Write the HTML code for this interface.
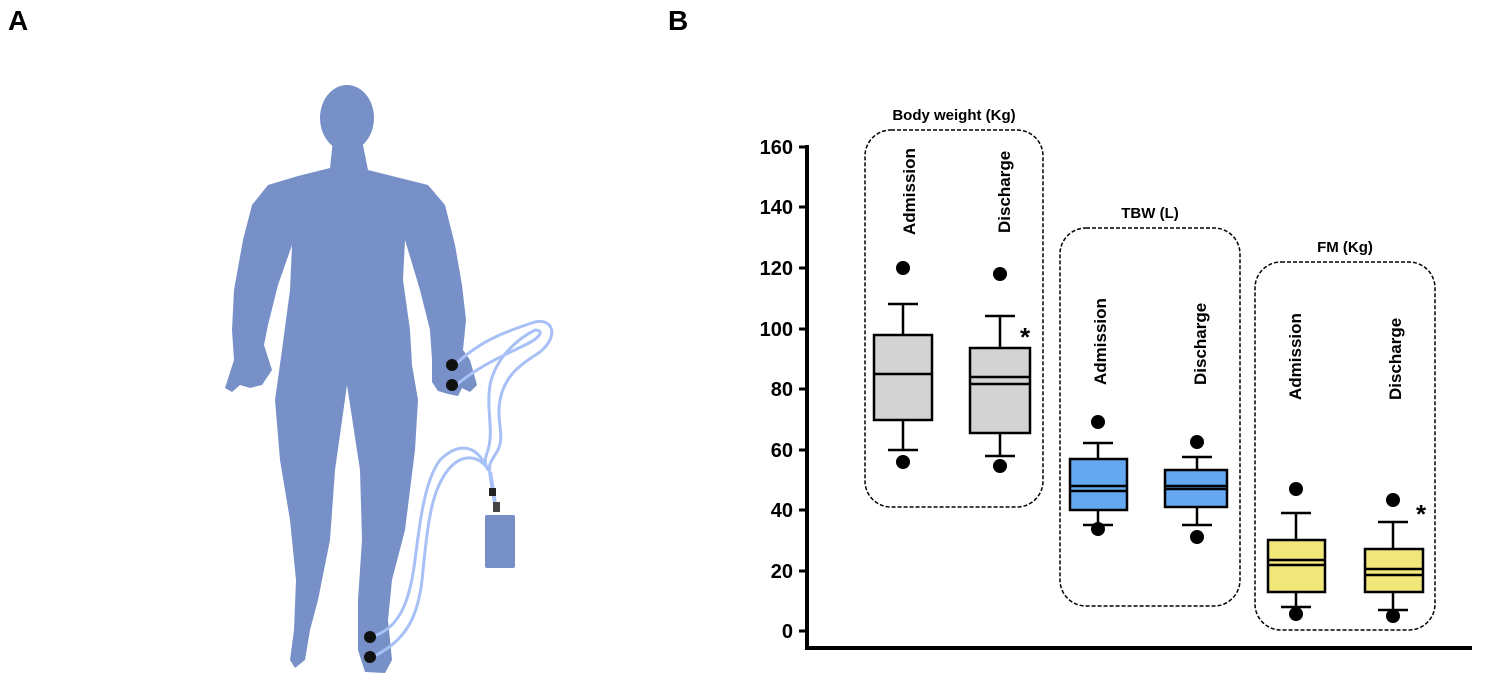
<!DOCTYPE html>
<html><head><meta charset="utf-8"><style>
html,body{margin:0;padding:0;background:#fff;}
svg{display:block;font-family:"Liberation Sans",Arial,sans-serif;}
</style></head><body>
<svg width="1498" height="680" viewBox="0 0 1498 680" xmlns="http://www.w3.org/2000/svg">
<text x="8" y="30" font-size="28" font-weight="bold">A</text>
<text x="668" y="30" font-size="28" font-weight="bold">B</text>

<!-- human figure -->
<g fill="#7790c7">
<ellipse cx="347" cy="118" rx="27" ry="33"/>
<path d="M333,140 L362,140 L368,170 L400,178 L428,185 L445,205 L455,245 L462,285 L466,320 L463,350 L470,360 L477,385 L470,392 L462,388 L458,396 L448,394 L438,391 L432,382 L432,360 L430,330 L420,290 L405,240 L403,280 L410,330 L412,365 L418,400 L415,450 L405,530 L392,580 L388,620 L392,660 L385,673 L365,672 L358,650 L358,600 L362,540 L360,470 L347,385 L335,470 L330,540 L318,600 L310,630 L305,660 L295,668 L290,660 L294,630 L296,580 L290,520 L280,460 L275,400 L282,350 L290,290 L292,245 L278,285 L268,325 L264,345 L272,370 L262,385 L250,388 L240,385 L232,392 L225,388 L234,360 L232,330 L234,290 L243,240 L252,205 L268,185 L298,176 L330,168 Z"/>
<rect x="485" y="515" width="30" height="53" rx="2"/>
</g>
<!-- cables -->
<g fill="none" stroke="#a7c0f5" stroke-width="3">
<path d="M455,365 C480,340 510,330 535,322 C552,318 560,335 540,352 C520,365 505,375 500,400 C496,420 505,435 498,450 C492,460 488,465 490,470"/>
<path d="M455,386 C480,365 505,355 525,345 C540,338 545,330 535,330 C515,340 495,360 490,385 C486,410 494,430 488,450 C484,460 485,465 488,470"/>
<path d="M370,637 C400,630 410,600 415,560 C420,520 425,480 440,460 C455,445 475,440 488,470"/>
<path d="M372,657 C410,640 420,610 423,570 C428,520 432,490 448,470 C460,455 478,452 490,472"/>
<path d="M490,472 L496,510" stroke-width="4"/>
</g>
<rect x="489" y="488" width="7" height="8" fill="#222"/>
<rect x="493" y="502" width="7" height="10" fill="#444"/>
<g fill="#111">
<circle cx="452" cy="365" r="6"/><circle cx="452" cy="385" r="6"/>
<circle cx="370" cy="637" r="6"/><circle cx="370" cy="657" r="6"/>
</g>

<!-- chart -->
<g stroke="#000" stroke-width="4" fill="none">
<line x1="807" y1="145" x2="807" y2="649"/>
<line x1="805" y1="648" x2="1472" y2="648"/>
</g>
<g stroke="#000" stroke-width="3">
<line x1="799" y1="147" x2="807" y2="147"/><line x1="799" y1="207" x2="807" y2="207"/>
<line x1="799" y1="268" x2="807" y2="268"/><line x1="799" y1="329" x2="807" y2="329"/>
<line x1="799" y1="389" x2="807" y2="389"/><line x1="799" y1="450" x2="807" y2="450"/>
<line x1="799" y1="510" x2="807" y2="510"/><line x1="799" y1="571" x2="807" y2="571"/>
<line x1="799" y1="631" x2="807" y2="631"/>
</g>
<g font-size="20" font-weight="bold" text-anchor="end">
<text x="793" y="154">160</text><text x="793" y="214">140</text><text x="793" y="275">120</text>
<text x="793" y="336">100</text><text x="793" y="396">80</text><text x="793" y="457">60</text>
<text x="793" y="517">40</text><text x="793" y="578">20</text><text x="793" y="638">0</text>
</g>

<g fill="none" stroke="#000" stroke-width="1.5" stroke-dasharray="4,2">
<rect x="865" y="130" width="178" height="377" rx="26"/>
<rect x="1060" y="228" width="180" height="378" rx="26"/>
<rect x="1255" y="262" width="180" height="368" rx="26"/>
</g>
<g font-size="15" font-weight="bold" text-anchor="middle">
<text x="954" y="120">Body weight (Kg)</text>
<text x="1150" y="218">TBW (L)</text>
<text x="1345" y="252">FM (Kg)</text>
</g>
<g font-size="17" font-weight="bold">
<text transform="translate(915,235) rotate(-90)">Admission</text>
<text transform="translate(1010,233) rotate(-90)">Discharge</text>
<text transform="translate(1106,385) rotate(-90)">Admission</text>
<text transform="translate(1206,385) rotate(-90)">Discharge</text>
<text transform="translate(1301,400) rotate(-90)">Admission</text>
<text transform="translate(1401,400) rotate(-90)">Discharge</text>
</g>
<g font-size="26" font-weight="bold"><text x="1020" y="346">*</text><text x="1416" y="523">*</text></g>

<!-- boxes -->
<g stroke="#000" stroke-width="2.5">
<line x1="903" y1="304" x2="903" y2="450"/><line x1="888" y1="304" x2="918" y2="304"/><line x1="888" y1="450" x2="918" y2="450"/>
<rect x="874" y="335" width="58" height="85" fill="#d3d3d3"/><line x1="874" y1="374" x2="932" y2="374"/>
<line x1="1000" y1="316" x2="1000" y2="456"/><line x1="985" y1="316" x2="1015" y2="316"/><line x1="985" y1="456" x2="1015" y2="456"/>
<rect x="970" y="348" width="60" height="85" fill="#d3d3d3"/><line x1="970" y1="377" x2="1030" y2="377"/><line x1="970" y1="384" x2="1030" y2="384"/>
<line x1="1098" y1="443" x2="1098" y2="525"/><line x1="1083" y1="443" x2="1113" y2="443"/><line x1="1083" y1="525" x2="1113" y2="525"/>
<rect x="1070" y="459" width="57" height="51" fill="#64a8f0"/><line x1="1070" y1="486" x2="1127" y2="486"/><line x1="1070" y1="491" x2="1127" y2="491"/>
<line x1="1197" y1="457" x2="1197" y2="525"/><line x1="1182" y1="457" x2="1212" y2="457"/><line x1="1182" y1="525" x2="1212" y2="525"/>
<rect x="1165" y="470" width="62" height="37" fill="#64a8f0"/><line x1="1165" y1="486" x2="1227" y2="486"/><line x1="1165" y1="489" x2="1227" y2="489"/>
<line x1="1296" y1="513" x2="1296" y2="607"/><line x1="1281" y1="513" x2="1311" y2="513"/><line x1="1281" y1="607" x2="1311" y2="607"/>
<rect x="1268" y="540" width="57" height="52" fill="#f0e67a"/><line x1="1268" y1="560" x2="1325" y2="560"/><line x1="1268" y1="565" x2="1325" y2="565"/>
<line x1="1393" y1="522" x2="1393" y2="610"/><line x1="1378" y1="522" x2="1408" y2="522"/><line x1="1378" y1="610" x2="1408" y2="610"/>
<rect x="1365" y="549" width="58" height="43" fill="#f0e67a"/><line x1="1365" y1="569" x2="1423" y2="569"/><line x1="1365" y1="575" x2="1423" y2="575"/>
</g>
<g fill="#000">
<circle cx="903" cy="268" r="7"/><circle cx="903" cy="462" r="7"/>
<circle cx="1000" cy="274" r="7"/><circle cx="1000" cy="466" r="7"/>
<circle cx="1098" cy="422" r="7"/><circle cx="1098" cy="529" r="7"/>
<circle cx="1197" cy="442" r="7"/><circle cx="1197" cy="537" r="7"/>
<circle cx="1296" cy="489" r="7"/><circle cx="1296" cy="614" r="7"/>
<circle cx="1393" cy="500" r="7"/><circle cx="1393" cy="616" r="7"/>
</g>
</svg>
</body></html>
